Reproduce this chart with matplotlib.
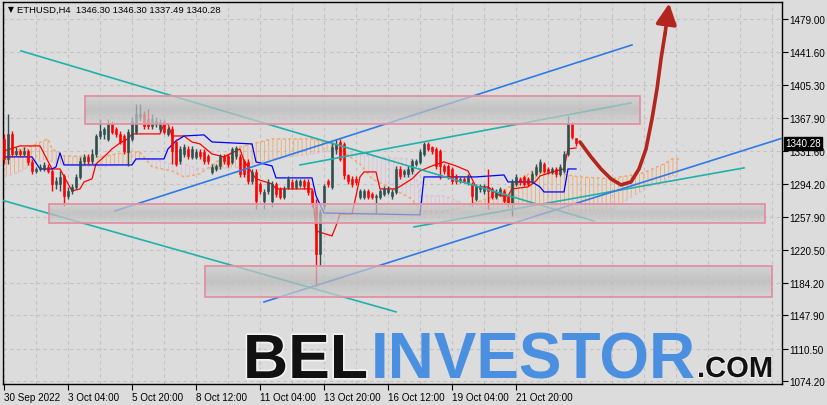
import numpy as np
import matplotlib
matplotlib.use("Agg")
import matplotlib.pyplot as plt
import matplotlib.patheffects as pe
from matplotlib.patches import Rectangle
from matplotlib.colors import LinearSegmentedColormap
from matplotlib.transforms import blended_transform_factory

# H4 candles, bar 0 = 30 Sep 2022 12:00
opens = [1345, 1323, 1350, 1328, 1331, 1328, 1331, 1319, 1309, 1311,
         1311, 1314, 1309, 1295, 1295, 1303, 1281, 1287, 1291, 1302,
         1320, 1325, 1320, 1328, 1348, 1350, 1345, 1362, 1356, 1350,
         1348, 1330, 1345, 1353, 1369, 1373, 1367, 1359, 1362, 1356,
         1364, 1350, 1356, 1342, 1320, 1328, 1334, 1325, 1325, 1330,
         1330, 1326, 1308, 1311, 1315, 1326, 1326, 1319, 1326, 1325,
         1320, 1319, 1298, 1308, 1295, 1276, 1287, 1276, 1295, 1289,
         1280, 1291, 1297, 1291, 1293, 1298, 1297, 1287, 1272, 1216,
         1270, 1298, 1291, 1334, 1342, 1339, 1304, 1300, 1300, 1280,
         1280, 1287, 1283, 1280, 1280, 1283, 1286, 1281, 1286, 1311,
         1306, 1306, 1309, 1317, 1319, 1328, 1339, 1336, 1334, 1331,
         1315, 1315, 1311, 1303, 1298, 1300, 1297, 1295, 1278, 1289,
         1287, 1291, 1289, 1280, 1283, 1287, 1280, 1272, 1295, 1300,
         1302, 1300, 1298, 1306, 1309, 1317, 1311, 1308, 1311, 1306,
         1309, 1328, 1362, 1346.30]
highs = [1350, 1373, 1354, 1336, 1334, 1336, 1334, 1322, 1314, 1317,
         1319, 1317, 1311, 1302, 1309, 1306, 1291, 1295, 1306, 1325,
         1328, 1328, 1334, 1350, 1367, 1358, 1367, 1365, 1358, 1354,
         1350, 1356, 1369, 1384, 1384, 1376, 1378, 1373, 1369, 1367,
         1367, 1358, 1359, 1345, 1337, 1339, 1337, 1337, 1334, 1334,
         1334, 1328, 1317, 1317, 1328, 1328, 1328, 1336, 1337, 1328,
         1322, 1322, 1311, 1311, 1297, 1289, 1300, 1298, 1297, 1291,
         1292, 1303, 1300, 1300, 1300, 1300, 1300, 1289, 1278, 1267,
         1295, 1300, 1342, 1345, 1345, 1342, 1306, 1303, 1303, 1289,
         1289, 1289, 1286, 1283, 1289, 1292, 1292, 1289, 1315, 1315,
         1311, 1315, 1322, 1322, 1334, 1342, 1342, 1337, 1336, 1334,
         1317, 1317, 1314, 1306, 1302, 1302, 1306, 1297, 1295, 1295,
         1295, 1311, 1291, 1289, 1291, 1289, 1282, 1300, 1306, 1302,
         1304, 1302, 1309, 1317, 1322, 1319, 1314, 1314, 1314, 1317,
         1331, 1371, 1364, 1346.30]
lows = [1317, 1317, 1325, 1326, 1325, 1326, 1316, 1306, 1307, 1309,
        1309, 1307, 1287, 1289, 1287, 1270, 1278, 1283, 1289, 1300,
        1317, 1317, 1317, 1325, 1345, 1345, 1343, 1350, 1347, 1339,
        1328, 1315, 1343, 1350, 1365, 1356, 1356, 1356, 1358, 1353,
        1350, 1348, 1317, 1315, 1317, 1325, 1323, 1323, 1323, 1323,
        1317, 1317, 1306, 1309, 1311, 1317, 1314, 1317, 1323, 1302,
        1302, 1295, 1295, 1267, 1283, 1267, 1283, 1269, 1280, 1278,
        1278, 1289, 1289, 1289, 1291, 1289, 1282, 1269, 1180, 1203,
        1267, 1291, 1289, 1328, 1320, 1300, 1295, 1291, 1293, 1278,
        1278, 1278, 1278, 1261, 1278, 1281, 1283, 1278, 1283, 1300,
        1302, 1302, 1306, 1315, 1317, 1326, 1331, 1328, 1311, 1300,
        1306, 1300, 1295, 1295, 1296, 1296, 1293, 1270, 1276, 1286,
        1283, 1267, 1278, 1278, 1281, 1272, 1269, 1259, 1292, 1293,
        1292, 1292, 1296, 1303, 1307, 1307, 1306, 1306, 1302, 1303,
        1307, 1326, 1345, 1337.49]
closes = [1323, 1350, 1328, 1331, 1328, 1331, 1319, 1309, 1311, 1314,
          1316, 1309, 1295, 1298, 1302, 1281, 1287, 1291, 1302, 1320,
          1325, 1320, 1328, 1348, 1354, 1356, 1362, 1353, 1350, 1342,
          1331, 1353, 1365, 1373, 1373, 1359, 1359, 1367, 1365, 1364,
          1353, 1356, 1331, 1317, 1334, 1336, 1326, 1334, 1330, 1326,
          1320, 1320, 1314, 1315, 1326, 1320, 1317, 1334, 1335, 1306,
          1306, 1298, 1308, 1276, 1287, 1286, 1297, 1295, 1283, 1280,
          1289, 1300, 1291, 1298, 1298, 1292, 1286, 1272, 1216, 1263,
          1292, 1295, 1336, 1339, 1322, 1304, 1298, 1295, 1297, 1287,
          1287, 1280, 1280, 1281, 1287, 1289, 1289, 1286, 1311, 1303,
          1309, 1311, 1320, 1320, 1330, 1339, 1334, 1331, 1315, 1315,
          1309, 1302, 1298, 1298, 1300, 1298, 1302, 1281, 1291, 1292,
          1291, 1287, 1280, 1286, 1289, 1276, 1272, 1297, 1302, 1297,
          1295, 1295, 1306, 1314, 1319, 1309, 1308, 1311, 1306, 1314,
          1328, 1362, 1347, 1340.28]

# Ichimoku lines (bar, price)
tenkan_bars = [0, 4, 9, 12, 14, 17, 19, 20, 22, 23, 25, 27, 29, 31, 32, 39, 40, 41, 42, 45,
               47, 49, 52, 55, 58, 59, 60, 63, 67, 68, 77, 78, 82, 83, 84, 87, 88, 89, 90, 93,
               94, 98, 102, 104, 107, 110, 113, 116, 118, 121, 124, 126, 127, 131, 133, 134,
               138, 140, 141, 143]
tenkan = [1331.5, 1337.1, 1337.1, 1311.3, 1311.3, 1286.7, 1289.0, 1296.8, 1300.2, 1316.9,
          1324.8, 1333.7, 1340.4, 1344.9, 1350.5, 1350.5, 1361.7, 1361.7, 1348.2, 1348.2,
          1341.5, 1339.3, 1328.1, 1324.8, 1331.5, 1333.7, 1320.3, 1300.2, 1294.6, 1289.0,
          1289.0, 1242.0, 1236.4, 1247.6, 1261.0, 1261.0, 1281.2, 1302.4, 1308.0, 1308.0,
          1289.0, 1289.0, 1300.2, 1309.1, 1314.7, 1319.2, 1314.7, 1309.1, 1291.2, 1291.2,
          1281.2, 1281.2, 1289.0, 1291.2, 1297.9, 1303.5, 1309.1, 1311.3, 1333.7, 1334.8]
kijun_bars = [0, 7, 9, 12, 13, 14, 15, 32, 33, 40, 41, 43, 45, 50, 52, 62, 63, 67, 68, 77,
              78, 80, 104, 105, 118, 125, 126, 132, 134, 135, 140, 141, 143]
kijun = [1324.8, 1324.8, 1311.3, 1311.3, 1313.6, 1329.2, 1315.8, 1315.8, 1322.5, 1322.5,
         1333.7, 1342.6, 1348.2, 1349.4, 1341.5, 1339.3, 1319.2, 1314.7, 1301.3, 1301.3,
         1281.2, 1262.1, 1259.9, 1302.4, 1302.4, 1304.6, 1296.8, 1296.8, 1291.2, 1285.6,
         1285.6, 1311.3, 1311.3]
cloud_bars = [0, 4, 7, 11, 12, 15, 24, 31, 34, 37, 42, 45, 49, 53, 59, 67, 77, 82, 89, 92,
              102, 104, 110, 117, 122, 129, 132, 139, 144, 152, 154, 159, 161, 165, 167, 169]
span_a = [1322.5, 1333.7, 1337.1, 1344.9, 1333.7, 1325.9, 1324.8, 1330.3, 1330.3, 1313.6,
          1309.1, 1302.4, 1305.8, 1319.2, 1335.9, 1344.9, 1344.9, 1339.3, 1316.9, 1300.2,
          1277.8, 1264.4, 1263.3, 1272.2, 1280.0, 1297.9, 1309.1, 1305.8, 1302.4, 1300.2,
          1302.4, 1305.8, 1309.1, 1316.9, 1322.5, 1322.5]
span_b = [1302.4, 1308.0, 1316.9, 1322.5, 1319.2, 1315.8, 1313.6, 1316.9, 1322.5, 1322.5,
          1316.9, 1316.9, 1311.3, 1311.3, 1313.6, 1322.5, 1328.1, 1331.5, 1328.1, 1324.8,
          1322.5, 1281.2, 1281.2, 1268.9, 1266.6, 1266.6, 1266.6, 1265.5, 1264.4, 1264.4,
          1272.2, 1285.6, 1291.2, 1297.9, 1303.5, 1303.5]

# support / resistance zones
zone_x0 = [20.25, 11.25, 50.25]
zone_x1 = [159.0, 190.25, 192.0]
zone_lo = [1361.6, 1250.8, 1168.2]
zone_hi = [1393.0, 1272.2, 1202.9]

# trend lines (bar, price) -> (bar, price)
teal_lines = [((4.25, 1443.3), (147.5, 1253.1)),
              ((-0.75, 1276.7), (98.0, 1151.5)),
              ((74.0, 1315.8), (156.75, 1385.1)),
              ((102.5, 1246.5), (185.0, 1312.5))]
blue_lines = [((27.75, 1264.4), (157.0, 1450.0)),
              ((65.0, 1162.6), (194.75, 1346.0))]

# forecast path
path_bars = [144, 146.75, 149.25, 151.75, 154.25, 156.75, 158.75, 160.5, 162, 163.25, 164.25, 165.25]
path_price = [1341.5, 1324.8, 1311.3, 1300.2, 1293.5, 1296.8, 1311.3, 1333.7, 1367.2, 1400.8, 1434.3, 1462.3]
arrow_tip = (166.3, 1496.5)

price_ticks = [1479.00, 1441.60, 1405.30, 1367.90, 1331.60, 1294.20, 1257.90,
               1220.50, 1184.20, 1147.90, 1110.50, 1074.20]
time_ticks = [0, 16, 32, 48, 64, 80, 96, 112, 128]
time_labels = ["30 Sep 2022", "3 Oct 04:00", "5 Oct 20:00", "8 Oct 12:00", "11 Oct 04:00",
               "13 Oct 20:00", "16 Oct 12:00", "19 Oct 04:00", "21 Oct 20:00"]
last_price = 1340.28

BG = "#dcdcdc"
FONT = "Liberation Sans"
plt.rcParams["hatch.linewidth"] = 0.55

fig = plt.figure(figsize=(8.28, 4.06), dpi=100, facecolor=BG)
ax = fig.add_axes([3 / 828, 21 / 406, 779 / 828, 382 / 406], facecolor=BG)

# grid
for p in price_ticks:
    ax.axhline(p, color="#c2c2c2", lw=0.8, ls=(0, (3, 3)), zorder=0.5)
for b in np.arange(0, 195, 8):
    ax.axvline(b, color="#c2c2c2", lw=0.8, ls=(0, (3, 3)), zorder=0.5)

# cloud
cb = np.array(cloud_bars, dtype=float)
sa = np.array(span_a)
sb = np.array(span_b)
ax.fill_between(cb, sa, sb, where=sa >= sb, interpolate=True, facecolor="none",
                edgecolor="#f4a460", hatch="||||", linewidth=0, zorder=1)
ax.fill_between(cb, sa, sb, where=sa < sb, interpolate=True, facecolor="none",
                edgecolor="#d8bfd8", hatch="||||", linewidth=0, zorder=1)
ax.plot(cb, sa, color="#f4a460", lw=1.0, ls=(0, (2, 2)), zorder=1.2)
ax.plot(cb, sb, color="#d8bfd8", lw=1.0, ls=(0, (2, 2)), zorder=1.2)

ax.plot(tenkan_bars, tenkan, color="#ff0000", lw=0.9, zorder=2)
ax.plot(kijun_bars, kijun, color="#0000ff", lw=0.9, zorder=2)

# candles
o = np.array(opens)
c = np.array(closes)
idx = np.arange(len(o))
up = c >= o
col = np.where(up, "#2f4f4f", "#ff0000")
ax.vlines(idx, lows, highs, colors=col, lw=1.0, zorder=3)
body = np.where(np.abs(c - o) < 0.8, 0.8, c - o)
ax.bar(idx, body, bottom=o, width=0.72, color=col, edgecolor=col, lw=0.4, zorder=3.1)

for (x0, y0), (x1, y1) in teal_lines:
    ax.plot([x0, x1], [y0, y1], color="#20b2aa", lw=1.2, zorder=4)
for (x0, y0), (x1, y1) in blue_lines:
    ax.plot([x0, x1], [y0, y1], color="#2f7be6", lw=1.2, zorder=4)

# zones: translucent grey band, darker in the middle, pink outline
zone_cmap = LinearSegmentedColormap.from_list("zone", ["#d0d0d0", "#bababa", "#d0d0d0"])
shade = np.linspace(0, 1, 32).reshape(-1, 1)
for x0, x1, lo, hi in zip(zone_x0, zone_x1, zone_lo, zone_hi):
    ax.imshow(shade, extent=[x0, x1, lo, hi], aspect="auto", cmap=zone_cmap,
              alpha=0.72, origin="lower", interpolation="bilinear", zorder=5)
    ax.add_patch(Rectangle((x0, lo), x1 - x0, hi - lo, facecolor="none",
                           edgecolor="#e58a9e", lw=1.2, zorder=5.1))

ax.set_xlim(-0.25, 194.5)
ax.set_ylim(1070.85, 1498.0)

# forecast arrow
ax.plot(path_bars, path_price, color="#b3261e", lw=2.6, solid_capstyle="round", zorder=6)
ax.annotate("", xy=arrow_tip, xytext=(path_bars[-1], path_price[-1]),
            arrowprops=dict(arrowstyle="-|>,head_width=0.45,head_length=0.9",
                            color="#b3261e", lw=2.6, mutation_scale=14,
                            shrinkA=0, shrinkB=0),
            annotation_clip=False, zorder=6)

# axes styling
for s in ax.spines.values():
    s.set_color("black")
    s.set_linewidth(1.0)
ax.yaxis.tick_right()
ax.set_yticks(price_ticks)
ax.set_yticklabels([f"{p:.2f}" for p in price_ticks])
ax.set_xticks(time_ticks)
ax.set_xticklabels(time_labels)
ax.tick_params(axis="y", length=4, width=0.8, pad=1.5, labelsize=7.1, colors="black")
ax.tick_params(axis="x", length=4, width=0.8, pad=2, labelsize=7.1, colors="black")
for lab in ax.get_xticklabels() + ax.get_yticklabels():
    lab.set_family(FONT)
for lab in ax.get_xticklabels():
    lab.set_ha("left")

tr = blended_transform_factory(ax.transAxes, ax.transData)
ax.text(1.004, last_price, f"{last_price:.2f}", transform=tr, ha="left", va="center",
        fontsize=7.1, family=FONT, color="white", zorder=20, clip_on=False,
        bbox=dict(boxstyle="square,pad=0.15", facecolor="black", edgecolor="black"))

# title
fig.text(8 / 828, 1 - 10 / 406, "\u25bc", fontsize=5.5, family="DejaVu Sans", va="center")
fig.text(17 / 828, 1 - 10 / 406, "ETHUSD,H4  1346.30 1346.30 1337.49 1340.28",
         fontsize=6.8, family=FONT, va="center", color="black")

# watermark
fig.text(243 / 828, 1 - 379 / 406, "BEL", fontsize=45, family=FONT,
         weight="bold", color="#111111", va="baseline", zorder=30,
         path_effects=[pe.withStroke(linewidth=2.5, foreground="#f2f2f2")])
fig.text(371 / 828, 1 - 379 / 406, "INVESTOR", fontsize=46, family=FONT,
         weight="bold", color="#4a8fe0", va="baseline", zorder=30)
fig.text(697 / 828, 1 - 378 / 406, ".COM", fontsize=21, family=FONT,
         weight="bold", color="#111111", va="baseline", zorder=30,
         path_effects=[pe.withStroke(linewidth=1.5, foreground="#f2f2f2")])

fig.savefig("out.png", dpi=100, facecolor=BG)
